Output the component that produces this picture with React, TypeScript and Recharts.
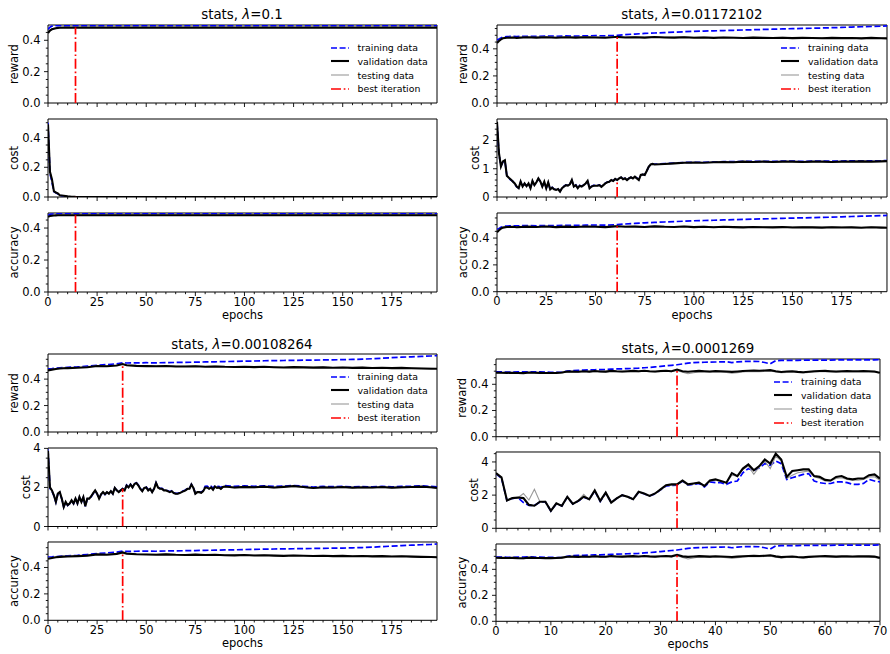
import React from 'react';
import { LineChart, Line, XAxis, YAxis, ReferenceArea, Legend } from 'recharts';

const FONT = "'DejaVu Sans', sans-serif";

// ---- small helpers for tick / epoch lists
const range = (a: number, b: number, s: number) => {
  const out: number[] = [];
  for (let v = a; v <= b + 1e-9; v += s) out.push(+v.toFixed(4));
  return out;
};

// ---- tick values
const X_MAJOR_200 = [0, 25, 50, 75, 100, 125, 150, 175];
const X_MAJOR_70 = [0, 10, 20, 30, 40, 50, 60, 70];
const Y_MAJOR_FRAC = [0, 0.2, 0.4];
const Y_MAJOR_012 = [0, 1, 2];
const Y_MAJOR_024 = [0, 2, 4];

// ---- panel A : lambda = 0.1
const A_BEST = 14;
const A_R_EPOCHS = [0, 1, 2, 3, 4, 5, 6, 8, 10, 14, 20, 40, 60, 80, 100, 120, 140, 160, 180, 198];
const A_REWARD_TRAIN = [0.470, 0.484, 0.490, 0.492, 0.493, 0.494, 0.494, 0.494, 0.494, 0.494, 0.494, 0.494, 0.494, 0.494, 0.494, 0.494, 0.494, 0.494, 0.494, 0.494];
const A_REWARD_VAL = [0.446, 0.462, 0.470, 0.474, 0.477, 0.479, 0.480, 0.481, 0.481, 0.481, 0.481, 0.481, 0.481, 0.481, 0.481, 0.481, 0.481, 0.481, 0.481, 0.481];
const A_REWARD_TEST = [0.450, 0.465, 0.472, 0.476, 0.478, 0.480, 0.481, 0.482, 0.482, 0.482, 0.482, 0.482, 0.482, 0.482, 0.482, 0.482, 0.482, 0.482, 0.482, 0.482];
const A_ACC_TRAIN = [0.478, 0.485, 0.487, 0.488, 0.488, 0.488, 0.488, 0.488, 0.488, 0.488, 0.488, 0.488, 0.488, 0.488, 0.488, 0.488, 0.488, 0.488, 0.488, 0.488];
const A_ACC_VAL = [0.470, 0.475, 0.477, 0.478, 0.479, 0.480, 0.480, 0.480, 0.480, 0.480, 0.480, 0.480, 0.480, 0.480, 0.480, 0.480, 0.480, 0.480, 0.480, 0.480];
const A_ACC_TEST = [0.472, 0.477, 0.479, 0.480, 0.481, 0.481, 0.482, 0.482, 0.482, 0.482, 0.482, 0.482, 0.482, 0.482, 0.482, 0.482, 0.482, 0.482, 0.482, 0.482];
const A_C_EPOCHS = [0, 1, 2, 3, 4, 5, 6, 7, 8, 10, 12, 14, 20, 40, 60, 80, 100, 120, 140, 160, 180, 198];
const A_COST_TRAIN = [0.500, 0.160, 0.100, 0.035, 0.028, 0.020, 0.012, 0.008, 0.005, 0.002, 0.001, 0, 0, 0, 0, 0, 0, 0, 0, 0, 0, 0];
const A_COST_VAL = [0.490, 0.170, 0.120, 0.040, 0.030, 0.025, 0.012, 0.010, 0.008, 0.004, 0.002, 0.001, 0, 0, 0, 0, 0, 0, 0, 0, 0, 0];
const A_COST_TEST = [0.490, 0.170, 0.115, 0.038, 0.030, 0.022, 0.012, 0.009, 0.007, 0.003, 0.001, 0, 0, 0, 0, 0, 0, 0, 0, 0, 0, 0];

// ---- panel B : lambda = 0.01172102
const B_BEST = 61;
const B_R_EPOCHS = [0, 1, 2, 3, 5, 8, ...range(10, 60, 5), 61, ...range(65, 195, 5), 198];
const B_REWARD_TRAIN = [0.465, 0.472, 0.480, 0.487, 0.490, 0.492,
  0.491, 0.493, 0.492, 0.494, 0.493, 0.495, 0.494, 0.496, 0.497, 0.496, 0.499,
  0.500,
  0.505, 0.509, 0.514, 0.517, 0.520, 0.523, 0.526, 0.529, 0.531, 0.533,
  0.535, 0.537, 0.539, 0.541, 0.543, 0.545, 0.547, 0.549, 0.551, 0.552,
  0.554, 0.556, 0.558, 0.561, 0.563, 0.565, 0.567,
  0.569];
const B_REWARD_VAL = [0.443, 0.458, 0.470, 0.478, 0.482, 0.484,
  0.481, 0.485, 0.483, 0.486, 0.482, 0.485, 0.483, 0.486, 0.484, 0.482, 0.487,
  0.488,
  0.484, 0.485, 0.483, 0.487, 0.484, 0.483, 0.486, 0.482, 0.484, 0.481,
  0.484, 0.482, 0.480, 0.483, 0.481, 0.480, 0.482, 0.479, 0.481, 0.480,
  0.478, 0.481, 0.479, 0.480, 0.477, 0.481, 0.478,
  0.477];
const B_REWARD_TEST = [0.447, 0.461, 0.472, 0.480, 0.484, 0.486,
  0.484, 0.487, 0.486, 0.488, 0.485, 0.487, 0.486, 0.488, 0.487, 0.485, 0.489,
  0.489,
  0.487, 0.488, 0.486, 0.489, 0.487, 0.486, 0.488, 0.485, 0.487, 0.484,
  0.486, 0.485, 0.483, 0.485, 0.484, 0.483, 0.485, 0.482, 0.484, 0.483,
  0.481, 0.484, 0.482, 0.483, 0.480, 0.483, 0.481,
  0.480];
const B_C_EPOCHS = [...range(0, 80, 1), ...range(85, 195, 5), 198];
const B_COST_VAL = [
  2.66, 1.55, 1.08, 1.26, 1.30, 0.75, 0.68, 0.62, 0.55, 0.48,
  0.37, 0.31, 0.55, 0.37, 0.48, 0.38, 0.48, 0.31, 0.57, 0.42,
  0.52, 0.66, 0.55, 0.37, 0.54, 0.31, 0.52, 0.27, 0.33, 0.27,
  0.25, 0.28, 0.19, 0.31, 0.37, 0.42, 0.40, 0.45, 0.60, 0.37,
  0.42, 0.31, 0.40, 0.37, 0.42, 0.48, 0.57, 0.31, 0.37, 0.40,
  0.40, 0.40, 0.42, 0.36, 0.42, 0.48, 0.52, 0.54, 0.60, 0.57,
  0.64, 0.60, 0.66, 0.70, 0.63, 0.66, 0.60, 0.66, 0.70, 0.66,
  0.72, 0.66, 0.60, 0.78, 0.80, 0.78, 0.92, 1.07, 1.15, 1.17, 1.15,
  1.17, 1.19, 1.21, 1.22, 1.21, 1.23, 1.24, 1.23, 1.25, 1.24, 1.25, 1.24,
  1.25, 1.25, 1.24, 1.25, 1.25, 1.24, 1.25, 1.25, 1.26, 1.25, 1.26, 1.27];
const B_COST_TRAIN = [
  2.62, 1.52, 1.10, 1.24, 1.28, 0.76, 0.66, 0.60, 0.56, 0.46,
  0.36, 0.32, 0.53, 0.38, 0.46, 0.40, 0.46, 0.33, 0.55, 0.43,
  0.50, 0.64, 0.56, 0.38, 0.52, 0.32, 0.50, 0.28, 0.34, 0.28,
  0.26, 0.29, 0.20, 0.32, 0.38, 0.43, 0.41, 0.46, 0.58, 0.38,
  0.43, 0.33, 0.41, 0.38, 0.43, 0.49, 0.55, 0.33, 0.38, 0.41,
  0.41, 0.41, 0.43, 0.38, 0.43, 0.49, 0.53, 0.55, 0.60, 0.58,
  0.63, 0.61, 0.65, 0.69, 0.64, 0.66, 0.62, 0.66, 0.69, 0.67,
  0.71, 0.67, 0.62, 0.77, 0.79, 0.79, 0.91, 1.06, 1.14, 1.17, 1.16,
  1.18, 1.20, 1.22, 1.23, 1.23, 1.24, 1.25, 1.25, 1.26, 1.26, 1.26, 1.26,
  1.27, 1.27, 1.26, 1.27, 1.27, 1.27, 1.27, 1.28, 1.28, 1.28, 1.28, 1.29];
const B_COST_TEST = [
  2.64, 1.56, 1.10, 1.27, 1.29, 0.77, 0.69, 0.63, 0.56, 0.49,
  0.38, 0.32, 0.54, 0.38, 0.47, 0.39, 0.47, 0.32, 0.56, 0.43,
  0.51, 0.65, 0.56, 0.38, 0.53, 0.32, 0.51, 0.28, 0.33, 0.28,
  0.26, 0.29, 0.20, 0.31, 0.38, 0.42, 0.41, 0.45, 0.59, 0.38,
  0.42, 0.32, 0.41, 0.38, 0.42, 0.48, 0.56, 0.32, 0.38, 0.40,
  0.41, 0.40, 0.42, 0.37, 0.42, 0.48, 0.52, 0.54, 0.59, 0.57,
  0.63, 0.60, 0.65, 0.69, 0.63, 0.66, 0.61, 0.66, 0.69, 0.66,
  0.71, 0.66, 0.61, 0.77, 0.79, 0.78, 0.91, 1.06, 1.14, 1.16, 1.15,
  1.17, 1.19, 1.21, 1.22, 1.22, 1.23, 1.24, 1.23, 1.25, 1.24, 1.25, 1.24,
  1.25, 1.25, 1.24, 1.25, 1.25, 1.25, 1.25, 1.25, 1.26, 1.25, 1.26, 1.27];

// ---- panel C : lambda = 0.00108264
const C_BEST = 38;
const C_R_EPOCHS = [0, 2, 4, 6, 8, ...range(10, 35, 5), 38, ...range(40, 195, 5), 198];
const C_REWARD_TRAIN = [0.478, 0.480, 0.483, 0.485, 0.487,
  0.489, 0.492, 0.498, 0.505, 0.510, 0.516,
  0.524,
  0.522, 0.523, 0.524, 0.523, 0.525, 0.526, 0.527, 0.528, 0.530, 0.531,
  0.533, 0.534, 0.536, 0.537, 0.539, 0.540, 0.541, 0.542, 0.543, 0.544,
  0.545, 0.546, 0.547, 0.549, 0.551, 0.554, 0.558, 0.562, 0.566, 0.569,
  0.572, 0.575,
  0.578];
const C_REWARD_VAL = [0.466, 0.472, 0.477, 0.480, 0.482,
  0.483, 0.486, 0.490, 0.499, 0.497, 0.503,
  0.514,
  0.505, 0.500, 0.498, 0.497, 0.499, 0.496, 0.495, 0.497, 0.494, 0.496,
  0.493, 0.492, 0.494, 0.491, 0.493, 0.490, 0.488, 0.491, 0.489, 0.487,
  0.489, 0.486, 0.488, 0.485, 0.487, 0.484, 0.486, 0.483, 0.485, 0.482,
  0.480, 0.479,
  0.478];
const C_REWARD_TEST = [0.470, 0.475, 0.479, 0.482, 0.484,
  0.485, 0.488, 0.492, 0.500, 0.499, 0.505,
  0.512,
  0.506, 0.502, 0.500, 0.499, 0.501, 0.498, 0.497, 0.499, 0.496, 0.498,
  0.495, 0.494, 0.496, 0.493, 0.495, 0.492, 0.490, 0.493, 0.491, 0.489,
  0.491, 0.488, 0.490, 0.487, 0.489, 0.486, 0.488, 0.485, 0.487, 0.484,
  0.482, 0.481,
  0.480];
const C_C_EPOCHS = [...range(0, 90, 1), ...range(95, 195, 5), 198];
const C_COST_VAL = [
  3.88, 2.00, 1.85, 1.60, 1.26, 1.68, 1.76, 1.43, 1.00, 1.26,
  1.09, 1.18, 1.34, 1.18, 1.43, 1.18, 1.51, 1.26, 1.51, 1.04,
  1.43, 1.43, 1.55, 1.71, 1.85, 1.68, 1.43, 1.65, 1.76, 1.65,
  1.76, 1.68, 1.81, 1.68, 1.98, 1.85, 1.76, 1.85, 1.93, 1.85,
  2.10, 2.00, 2.15, 2.00, 2.18, 2.23, 2.10, 1.93, 1.81, 1.98,
  2.00, 1.85, 1.93, 1.76, 1.93, 2.23, 2.00, 1.93, 1.93, 1.85,
  1.85, 1.81, 1.76, 1.81, 1.71, 1.68, 1.68, 1.71, 1.76, 1.81,
  1.85, 1.93, 1.93, 2.15, 1.98, 1.68, 1.76, 1.76, 1.73, 1.81,
  2.00, 2.00, 1.93, 2.00, 1.88, 2.05, 1.98, 2.00, 1.93, 2.02, 2.05,
  2.00, 2.03, 2.01, 2.04, 2.00, 2.03, 2.07, 2.02, 1.97, 2.01, 2.00,
  2.02, 1.99, 2.01, 2.00, 2.02, 1.99, 2.01, 2.02, 2.04, 2.01, 1.98];
const C_COST_TRAIN = [
  3.95, 1.95, 1.82, 1.58, 1.25, 1.66, 1.74, 1.42, 1.00, 1.24,
  1.08, 1.17, 1.32, 1.17, 1.41, 1.17, 1.49, 1.25, 1.49, 1.03,
  1.42, 1.42, 1.53, 1.69, 1.83, 1.67, 1.42, 1.64, 1.75, 1.64,
  1.75, 1.67, 1.80, 1.68, 1.97, 1.85, 1.77, 1.86, 1.94, 1.87,
  2.12, 2.02, 2.16, 2.02, 2.20, 2.24, 2.12, 1.95, 1.83, 2.00,
  2.02, 1.87, 1.95, 1.78, 1.95, 2.24, 2.02, 1.95, 1.95, 1.87,
  1.87, 1.83, 1.78, 1.83, 1.73, 1.70, 1.70, 1.73, 1.78, 1.83,
  1.87, 1.95, 1.95, 2.16, 2.00, 1.70, 1.78, 1.78, 1.76, 1.84,
  2.06, 2.07, 2.00, 2.06, 1.96, 2.09, 2.04, 2.06, 2.00, 2.07, 2.09,
  2.05, 2.08, 2.06, 2.08, 2.05, 2.07, 2.10, 2.06, 2.02, 2.05, 2.04,
  2.05, 2.03, 2.04, 2.03, 2.05, 2.03, 2.05, 2.06, 2.08, 2.05, 2.03];
const C_COST_TEST = [
  3.90, 2.02, 1.86, 1.62, 1.28, 1.69, 1.77, 1.45, 1.02, 1.27,
  1.10, 1.19, 1.35, 1.19, 1.44, 1.19, 1.52, 1.27, 1.52, 1.06,
  1.44, 1.44, 1.56, 1.72, 1.86, 1.69, 1.45, 1.66, 1.77, 1.66,
  1.77, 1.69, 1.82, 1.69, 1.98, 1.85, 1.76, 1.84, 1.92, 1.84,
  2.08, 1.99, 2.13, 1.99, 2.16, 2.21, 2.09, 1.92, 1.80, 1.96,
  1.98, 1.84, 1.92, 1.75, 1.92, 2.20, 1.98, 1.92, 1.92, 1.84,
  1.84, 1.80, 1.75, 1.80, 1.70, 1.66, 1.67, 1.70, 1.75, 1.80,
  1.84, 1.92, 1.91, 2.12, 1.96, 1.66, 1.74, 1.75, 1.72, 1.79,
  1.97, 1.98, 1.91, 1.97, 1.86, 2.02, 1.96, 1.97, 1.91, 2.00, 2.02,
  1.98, 2.00, 1.99, 2.01, 1.98, 2.01, 2.04, 2.00, 1.95, 1.99, 1.98,
  2.00, 1.97, 1.99, 1.98, 2.00, 1.97, 1.99, 2.00, 2.02, 1.99, 1.96];

// ---- panel D : lambda = 0.0001269
const D_BEST = 33;
const D_EPOCHS = range(0, 70, 1);
const D_REWARD_TRAIN = [
  0.495, 0.494, 0.493, 0.493, 0.494, 0.495, 0.496, 0.495, 0.494, 0.493,
  0.492, 0.491, 0.492, 0.500, 0.505, 0.507, 0.508, 0.510, 0.511, 0.512,
  0.513, 0.515, 0.517, 0.518, 0.520, 0.521, 0.523, 0.526, 0.529, 0.533,
  0.537, 0.541, 0.545, 0.549, 0.555, 0.561, 0.565, 0.567, 0.568, 0.569,
  0.570, 0.571, 0.572, 0.566, 0.571, 0.574, 0.575, 0.575, 0.574, 0.566,
  0.556, 0.580, 0.582, 0.582, 0.583, 0.583, 0.584, 0.584, 0.584, 0.585,
  0.585, 0.585, 0.586, 0.586, 0.586, 0.586, 0.587, 0.587, 0.587, 0.587, 0.588];
const D_REWARD_VAL = [
  0.489, 0.488, 0.487, 0.488, 0.486, 0.485, 0.490, 0.488, 0.487, 0.486,
  0.486, 0.487, 0.490, 0.497, 0.498, 0.496, 0.499, 0.497, 0.501, 0.498,
  0.497, 0.502, 0.499, 0.498, 0.500, 0.502, 0.499, 0.503, 0.500, 0.498,
  0.501, 0.503, 0.500, 0.512, 0.500, 0.496, 0.499, 0.502, 0.500, 0.498,
  0.501, 0.499, 0.497, 0.495, 0.498, 0.501, 0.503, 0.504, 0.503, 0.505,
  0.508, 0.500, 0.494, 0.497, 0.499, 0.495, 0.492, 0.496, 0.499, 0.501,
  0.502, 0.500, 0.498, 0.500, 0.501, 0.499, 0.500, 0.501, 0.500, 0.498, 0.488];
const D_REWARD_TEST = [
  0.487, 0.486, 0.484, 0.485, 0.483, 0.482, 0.487, 0.486, 0.485, 0.484,
  0.483, 0.485, 0.487, 0.494, 0.495, 0.493, 0.497, 0.494, 0.498, 0.495,
  0.494, 0.499, 0.496, 0.495, 0.497, 0.499, 0.496, 0.500, 0.497, 0.495,
  0.497, 0.499, 0.496, 0.505, 0.492, 0.480, 0.488, 0.495, 0.494, 0.492,
  0.495, 0.493, 0.490, 0.484, 0.489, 0.494, 0.497, 0.498, 0.497, 0.499,
  0.501, 0.494, 0.488, 0.491, 0.494, 0.490, 0.487, 0.491, 0.494, 0.496,
  0.497, 0.495, 0.493, 0.495, 0.496, 0.494, 0.495, 0.496, 0.494, 0.492, 0.484];
const D_COST_VAL = [
  3.33, 3.07, 1.68, 1.82, 1.86, 1.82, 1.41, 1.36, 1.60, 1.60,
  1.05, 1.50, 1.35, 1.90, 1.47, 1.65, 1.90, 1.75, 2.28, 1.65,
  2.15, 1.55, 1.80, 2.00, 1.90, 1.75, 2.20, 2.10, 1.95, 2.10,
  2.35, 2.60, 2.65, 2.65, 2.88, 2.65, 2.70, 2.75, 2.55, 2.88,
  2.95, 2.85, 2.75, 3.33, 3.15, 3.60, 3.85, 3.50, 3.75, 4.15,
  3.90, 4.50, 4.15, 3.10, 3.45, 3.50, 3.55, 3.55, 3.15, 3.10,
  2.92, 2.88, 3.10, 3.15, 3.00, 2.95, 3.00, 3.00, 3.20, 3.25, 3.00];
const D_COST_TRAIN = [
  3.28, 3.02, 1.68, 1.80, 1.84, 1.55, 1.38, 1.38, 1.58, 1.60,
  1.05, 1.48, 1.35, 1.88, 1.47, 1.65, 1.88, 1.75, 2.25, 1.62,
  2.12, 1.55, 1.80, 2.00, 1.90, 1.75, 2.18, 2.08, 1.95, 2.08,
  2.32, 2.55, 2.58, 2.60, 2.85, 2.60, 2.65, 2.70, 2.50, 2.80,
  2.75, 2.75, 2.65, 2.80, 2.85, 3.35, 3.60, 3.50, 3.65, 3.90,
  3.80, 4.05, 3.90, 2.95, 3.05, 3.15, 3.25, 3.30, 2.85, 2.75,
  2.70, 2.70, 2.80, 2.80, 2.75, 2.65, 2.65, 2.70, 2.95, 2.85, 2.80];
const D_COST_TEST = [
  3.30, 3.05, 1.70, 1.82, 1.85, 2.10, 1.70, 2.35, 1.60, 1.62,
  1.08, 1.50, 1.38, 1.88, 1.50, 1.68, 2.05, 1.70, 2.25, 1.65,
  2.10, 1.58, 1.80, 2.00, 1.88, 1.75, 2.18, 2.08, 1.95, 2.10,
  2.30, 2.58, 2.62, 2.62, 2.85, 2.60, 2.70, 2.78, 2.55, 2.85,
  2.90, 2.82, 2.75, 3.20, 3.15, 3.55, 3.75, 3.25, 3.70, 4.05,
  3.60, 4.35, 4.05, 3.00, 3.20, 3.35, 3.40, 3.45, 3.10, 3.00,
  2.85, 2.85, 3.00, 3.05, 2.95, 2.90, 2.90, 2.95, 3.10, 3.10, 2.90];

// ---- series look (matplotlib-like)
const SERIES: Record<string, { name: string; stroke: string; width: number; dash?: string }> = {
  train: { name: 'training data', stroke: '#0000ff', width: 1.7, dash: '6 2.6' },
  val: { name: 'validation data', stroke: '#000000', width: 2.1 },
  test: { name: 'testing data', stroke: '#999999', width: 1.1 },
  best: { name: 'best iteration', stroke: '#ff0000', width: 1.7, dash: '10 2.7 1.7 2.7' },
};
const LEGEND_ORDER = ['train', 'val', 'test', 'best'];

const rows = (ep: number[], tr: number[], va: number[], te: number[]) =>
  ep.map((e, i) => ({ e, train: tr[i], val: va[i], test: te[i] }));

const YW = 46;
const MT = 9;
const MR = 12;
const isIn = (arr: number[], v: number) => arr.some((m) => Math.abs(m - v) < 1e-6);

function XTick(props: any) {
  const { x, y, payload, major, show } = props;
  const ay = y - 4 - 1.5;
  const big = isIn(major, payload.value);
  return (
    <g>
      <line x1={x} x2={x} y1={ay} y2={ay + (big ? 4 : 2.2)} stroke="#000" strokeWidth={0.9} />
      {big && show && (
        <text x={x} y={y} dy="0.71em" textAnchor="middle" fontSize={11.5} fill="#000">
          {payload.value}
        </text>
      )}
    </g>
  );
}

function YTick(props: any) {
  const { x, y, payload, major, dec } = props;
  const ax = x + 4 + 3.5;
  const big = isIn(major, payload.value);
  return (
    <g>
      <line x1={ax - (big ? 4 : 2.2)} x2={ax} y1={y} y2={y} stroke="#000" strokeWidth={0.9} />
      {big && (
        <text x={x} y={y} textAnchor="end" dominantBaseline="central" fontSize={11.5} fill="#000">
          {dec ? Number(payload.value).toFixed(1) : String(payload.value)}
        </text>
      )}
    </g>
  );
}

function LegendBox(props: any) {
  const payload = props.payload || [];
  const items = LEGEND_ORDER.map((k) => payload.find((p: any) => p.dataKey === k)).filter(Boolean);
  return (
    <div style={{ fontFamily: FONT, fontSize: 9.4, color: '#000' }}>
      {items.map((p: any) => {
        const s = SERIES[p.dataKey];
        return (
          <div key={p.dataKey} style={{ display: 'flex', alignItems: 'center', height: 13.8 }}>
            <svg width={18} height={8} style={{ display: 'block' }}>
              <line x1={0} x2={18} y1={4} y2={4} stroke={s.stroke} strokeWidth={s.width} strokeDasharray={s.dash} />
            </svg>
            <span style={{ marginLeft: 9, whiteSpace: 'nowrap' }}>{p.value}</span>
          </div>
        );
      })}
    </div>
  );
}

type SubProps = {
  left: number; top: number; w: number; h: number;
  data: any[]; xMax: number; xMajor: number[]; xMinor: number;
  yMax: number; yMajor: number[]; yMinor: number; dec: boolean;
  yLabel: string; labelDist: number; bottom?: boolean; best: number; legend?: boolean;
};

function SubPlot(p: SubProps) {
  const xh = p.bottom ? 34 : 6;
  const hit = p.data.find((d) => d.e === p.best);
  const bestData = [{ e: p.best, best: 0 }, { e: p.best, best: hit ? hit.val : 0 }];
  return (
    <div style={{ position: 'absolute', left: p.left - YW, top: p.top - MT }}>
      <LineChart
        width={YW + p.w + MR}
        height={MT + p.h + xh}
        data={p.data}
        margin={{ top: MT, right: MR, bottom: 0, left: 0 }}
        style={{ fontFamily: FONT }}
      >
        <XAxis
          dataKey="e" type="number" domain={[0, p.xMax]} allowDataOverflow
          ticks={range(0, p.xMax, p.xMinor)} interval={0}
          tickSize={4} tickMargin={1.5} tickLine={false} axisLine={false} height={xh}
          tick={<XTick major={p.xMajor} show={!!p.bottom} />}
          label={p.bottom ? { value: 'epochs', position: 'insideBottom', offset: 7, style: { fontSize: 11.5, fill: '#000' } } : undefined}
        />
        <YAxis
          type="number" domain={[0, p.yMax]} allowDataOverflow
          ticks={range(0, p.yMax, p.yMinor)} interval={0}
          tickSize={4} tickMargin={3.5} tickLine={false} axisLine={false} width={YW}
          tick={<YTick major={p.yMajor} dec={p.dec} />}
          label={{ value: p.yLabel, angle: -90, position: 'insideLeft', offset: YW - p.labelDist, style: { textAnchor: 'middle', fontSize: 11.5, fill: '#000' } }}
        />
        <ReferenceArea x1={0} x2={p.xMax} y1={0} y2={p.yMax} fill="none" stroke="#000" strokeWidth={1} ifOverflow="visible" />
        <Line dataKey="train" name={SERIES.train.name} type="linear" stroke={SERIES.train.stroke} strokeWidth={SERIES.train.width} strokeDasharray={SERIES.train.dash} dot={false} activeDot={false} isAnimationActive={false} />
        <Line dataKey="test" name={SERIES.test.name} type="linear" stroke={SERIES.test.stroke} strokeWidth={SERIES.test.width} dot={false} activeDot={false} isAnimationActive={false} />
        <Line dataKey="val" name={SERIES.val.name} type="linear" stroke={SERIES.val.stroke} strokeWidth={SERIES.val.width} dot={false} activeDot={false} isAnimationActive={false} />
        <Line data={bestData} dataKey="best" name={SERIES.best.name} type="linear" stroke={SERIES.best.stroke} strokeWidth={SERIES.best.width} strokeDasharray={SERIES.best.dash} dot={false} activeDot={false} isAnimationActive={false} />
        {p.legend && (
          <Legend
            layout="horizontal" verticalAlign="middle" align="center"
            content={<LegendBox />}
            wrapperStyle={{ left: YW + p.w - 106, top: MT + 15.7, width: 'auto', height: 'auto' }}
          />
        )}
      </LineChart>
    </div>
  );
}

function Title({ cx, top, lam }: { cx: number; top: number; lam: string }) {
  return (
    <div style={{ position: 'absolute', left: cx - 150, width: 300, top, textAlign: 'center', fontFamily: FONT, fontSize: 13.4, lineHeight: '16px', color: '#000' }}>
      stats, <i>λ</i>={lam}
    </div>
  );
}

export default function App() {
  const aR = rows(A_R_EPOCHS, A_REWARD_TRAIN, A_REWARD_VAL, A_REWARD_TEST);
  const aC = rows(A_C_EPOCHS, A_COST_TRAIN, A_COST_VAL, A_COST_TEST);
  const aA = rows(A_R_EPOCHS, A_ACC_TRAIN, A_ACC_VAL, A_ACC_TEST);
  const bR = rows(B_R_EPOCHS, B_REWARD_TRAIN, B_REWARD_VAL, B_REWARD_TEST);
  const bC = rows(B_C_EPOCHS, B_COST_TRAIN, B_COST_VAL, B_COST_TEST);
  const cR = rows(C_R_EPOCHS, C_REWARD_TRAIN, C_REWARD_VAL, C_REWARD_TEST);
  const cC = rows(C_C_EPOCHS, C_COST_TRAIN, C_COST_VAL, C_COST_TEST);
  const dR = rows(D_EPOCHS, D_REWARD_TRAIN, D_REWARD_VAL, D_REWARD_TEST);
  const dC = rows(D_EPOCHS, D_COST_TRAIN, D_COST_VAL, D_COST_TEST);

  const x200 = { xMax: 198, xMajor: X_MAJOR_200, xMinor: 5 };
  const x70 = { xMax: 70, xMajor: X_MAJOR_70, xMinor: 2 };
  const frac = { yMajor: Y_MAJOR_FRAC, yMinor: 0.05, dec: true, labelDist: 34 };

  return (
    <div style={{ position: 'absolute', left: 0, top: 0, width: 890, height: 654, background: '#fff', overflow: 'hidden' }}>
      <Title cx={242} top={7.3} lam="0.1" />
      <SubPlot left={47.5} top={25} w={389} h={78} data={aR} {...x200} {...frac} yMax={0.4975} yLabel="reward" best={A_BEST} legend />
      <SubPlot left={47.5} top={119.3} w={389} h={78} data={aC} {...x200} {...frac} yMax={0.525} yLabel="cost" best={A_BEST} />
      <SubPlot left={47.5} top={212.7} w={389} h={79} data={aA} {...x200} {...frac} yMax={0.494} yLabel="accuracy" best={A_BEST} bottom />

      <Title cx={692} top={7.3} lam="0.01172102" />
      <SubPlot left={497} top={25} w={390} h={78} data={bR} {...x200} {...frac} yMax={0.576} yLabel="reward" best={B_BEST} legend />
      <SubPlot left={497} top={119.3} w={390} h={78} data={bC} {...x200} yMajor={Y_MAJOR_012} yMinor={0.2} dec={false} labelDist={22} yMax={2.76} yLabel="cost" best={B_BEST} />
      <SubPlot left={497} top={213} w={390} h={78.7} data={bR} {...x200} {...frac} yMax={0.587} yLabel="accuracy" best={B_BEST} bottom />

      <Title cx={242} top={336.6} lam="0.00108264" />
      <SubPlot left={47.5} top={354} w={389} h={78} data={cR} {...x200} {...frac} yMax={0.59} yLabel="reward" best={C_BEST} legend />
      <SubPlot left={47.5} top={448} w={389} h={78.5} data={cC} {...x200} yMajor={Y_MAJOR_024} yMinor={0.5} dec={false} labelDist={22} yMax={4.02} yLabel="cost" best={C_BEST} />
      <SubPlot left={47.5} top={542} w={389} h={78.3} data={cR} {...x200} {...frac} yMax={0.593} yLabel="accuracy" best={C_BEST} bottom />

      <Title cx={688} top={340.6} lam="0.0001269" />
      <SubPlot left={496} top={359} w={384} h={77.7} data={dR} {...x70} {...frac} yMax={0.593} yLabel="reward" best={D_BEST} legend />
      <SubPlot left={496} top={452} w={384} h={76.3} data={dC} {...x70} yMajor={Y_MAJOR_024} yMinor={0.5} dec={false} labelDist={22} yMax={4.6} yLabel="cost" best={D_BEST} />
      <SubPlot left={496} top={544} w={384} h={77.3} data={dR} {...x70} {...frac} yMax={0.595} yLabel="accuracy" best={D_BEST} bottom />
    </div>
  );
}
